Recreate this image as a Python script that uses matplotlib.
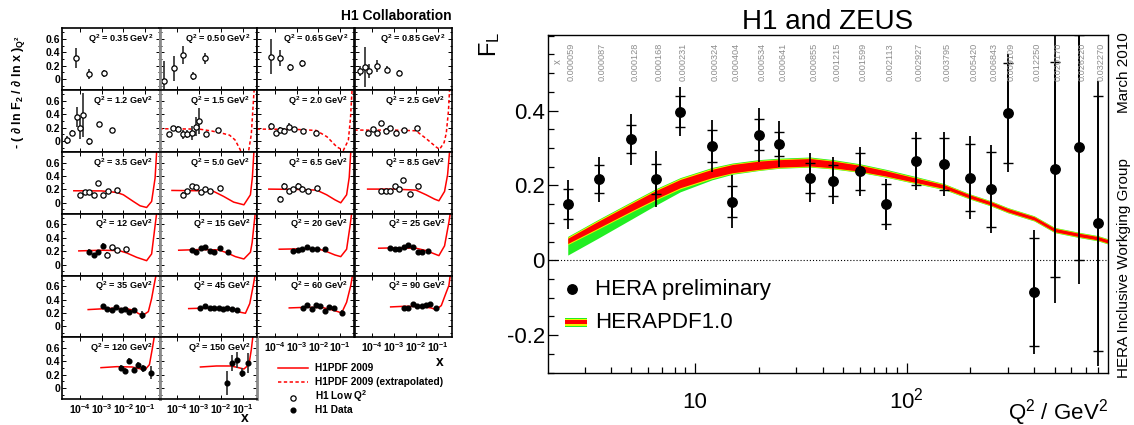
import numpy as np
import matplotlib
matplotlib.use("Agg")
import matplotlib.pyplot as plt
from matplotlib.lines import Line2D
from matplotlib.patches import Rectangle
from matplotlib.ticker import FixedLocator, NullFormatter, LogLocator, MultipleLocator, FixedFormatter
import matplotlib.transforms as mtransforms

plt.rcParams['font.family'] = ['Liberation Sans', 'DejaVu Sans']
plt.rcParams['mathtext.fontset'] = 'custom'
plt.rcParams['mathtext.rm'] = 'Liberation Sans'
plt.rcParams['mathtext.it'] = 'Liberation Sans:italic'
plt.rcParams['mathtext.bf'] = 'Liberation Sans:bold'
plt.rcParams['axes.unicode_minus'] = False

# ---------------- Left: H1 lambda panels ----------------
h1_q2 = ['0.35', '0.50', '0.65', '0.85', '1.2', '1.5', '2.0', '2.5',
         '3.5', '5.0', '6.5', '8.5', '12', '15', '20', '25',
         '35', '45', '60', '90', '120', '150']

h1_logx = [
    [-4.18, -3.59, -2.90],
    [-4.60, -4.17, -3.76, -3.30, -2.72],
    [-4.18, -3.78, -3.31, -2.74],
    [-4.55, -4.35, -4.14, -3.80, -3.34, -2.76],
    [-4.61, -4.35, -4.15, -4.00, -3.85, -3.59, -3.11, -2.54],
    [-4.38, -4.18, -3.97, -3.76, -3.55, -3.35, -3.16, -2.99, -2.68, -2.11],
    [-4.18, -3.97, -3.77, -3.57, -3.35, -3.11, -2.70, -2.11],
    [-4.22, -3.99, -3.78, -3.59, -3.37, -3.17, -2.91, -2.53, -1.94],
    [-4.00, -3.77, -3.57, -3.35, -3.18, -2.95, -2.69, -2.28],
    [-3.76, -3.55, -3.35, -3.14, -2.93, -2.72, -2.48, -2.05],
    [-3.77, -3.59, -3.37, -3.16, -2.95, -2.74, -2.50, -2.05],
    [-3.60, -3.37, -3.17, -2.97, -2.76, -2.57, -2.29, -1.88],
    [-3.57, -3.35, -3.18, -2.95, -2.77, -2.54, -2.31, -1.88],
    [-3.35, -3.14, -2.93, -2.72, -2.51, -2.31, -2.05, -1.68],
    [-3.16, -2.95, -2.74, -2.53, -2.31, -2.08, -1.70],
    [-3.18, -2.97, -2.76, -2.56, -2.34, -2.14, -1.91, -1.70, -1.45],
    [-2.95, -2.74, -2.54, -2.34, -2.13, -1.93, -1.73, -1.51, -1.16],
    [-2.94, -2.71, -2.51, -2.31, -2.10, -1.89, -1.70, -1.48, -1.25],
    [-2.72, -2.51, -2.31, -2.11, -1.91, -1.70, -1.50, -1.27, -0.93],
    [-2.56, -2.34, -2.14, -1.94, -1.73, -1.53, -1.33, -1.06],
    [-2.13, -1.93, -1.73, -1.51, -1.31, -1.08, -0.74],
    [-1.71, -1.48, -1.28, -1.05, -0.74],
]

h1_val = [
    [0.32, 0.08, 0.09],
    [-0.03, 0.16, 0.36, 0.045, 0.31],
    [0.33, 0.31, 0.175, 0.235],
    [0.125, 0.18, 0.125, 0.20, 0.14, 0.095],
    [0.015, 0.125, 0.365, 0.19, 0.39, 0.0, 0.25, 0.165],
    [0.10, 0.19, 0.18, 0.10, 0.105, 0.125, 0.215, 0.30, 0.10, 0.16],
    [0.23, 0.125, 0.165, 0.15, 0.215, 0.18, 0.155, 0.115],
    [0.125, 0.175, 0.115, 0.265, 0.15, 0.19, 0.115, 0.165, 0.19],
    [0.11, 0.16, 0.16, 0.11, 0.295, 0.11, 0.18, 0.19],
    [0.12, 0.18, 0.245, 0.235, 0.16, 0.205, 0.17, 0.22],
    [0.055, 0.255, 0.17, 0.205, 0.255, 0.205, 0.17, 0.22],
    [0.17, 0.18, 0.18, 0.255, 0.205, 0.335, 0.135, 0.245],
    [0.185, 0.15, 0.195, 0.285, 0.15, 0.26, 0.225, 0.23],
    [0.22, 0.195, 0.245, 0.26, 0.21, 0.185, 0.245, 0.195],
    [0.21, 0.22, 0.235, 0.26, 0.235, 0.235, 0.23],
    [0.245, 0.235, 0.235, 0.26, 0.295, 0.26, 0.195, 0.195, 0.21],
    [0.30, 0.265, 0.25, 0.29, 0.25, 0.255, 0.215, 0.25, 0.175],
    [0.275, 0.305, 0.28, 0.275, 0.275, 0.265, 0.28, 0.255, 0.24],
    [0.28, 0.315, 0.265, 0.315, 0.30, 0.225, 0.29, 0.275, 0.20],
    [0.275, 0.275, 0.34, 0.305, 0.305, 0.325, 0.33, 0.275],
    [0.305, 0.26, 0.405, 0.27, 0.345, 0.295, 0.23],
    [0.08, 0.38, 0.42, 0.23, 0.38],
]

h1_err = [
    [0.15, 0.07, 0.05],
    [0.30, 0.18, 0.13, 0.06, 0.08],
    [0.26, 0.12, 0.05, 0.05],
    [0.07, 0.30, 0.10, 0.09, 0.05, 0.04],
    [0.06, 0.04, 0.15, 0.15, 0.32, 0.05, 0.03, 0.03],
    [0.03, 0.04, 0.05, 0.07, 0.06, 0.10, 0.14, 0.20, 0.04, 0.03],
    [0.04, 0.03, 0.04, 0.04, 0.05, 0.03, 0.03, 0.03],
    [0.03, 0.03, 0.03, 0.04, 0.04, 0.04, 0.03, 0.02, 0.03],
    [0.025, 0.02, 0.02, 0.03, 0.03, 0.03, 0.02, 0.02],
    [0.035, 0.025, 0.025, 0.025, 0.03, 0.03, 0.02, 0.02],
    [0.04, 0.035, 0.025, 0.03, 0.035, 0.04, 0.02, 0.02],
    [0.025, 0.025, 0.025, 0.03, 0.035, 0.04, 0.02, 0.02],
    [0.045, 0.025, 0.03, 0.04, 0.04, 0.04, 0.02, 0.02],
    [0.02, 0.02, 0.02, 0.02, 0.02, 0.02, 0.02, 0.02],
    [0.02, 0.02, 0.02, 0.02, 0.02, 0.02, 0.02],
    [0.02, 0.02, 0.02, 0.02, 0.02, 0.02, 0.03, 0.03, 0.03],
    [0.02, 0.02, 0.02, 0.02, 0.02, 0.02, 0.03, 0.03, 0.06],
    [0.02, 0.02, 0.02, 0.02, 0.02, 0.02, 0.02, 0.03, 0.03],
    [0.03, 0.03, 0.02, 0.02, 0.02, 0.03, 0.03, 0.03, 0.05],
    [0.03, 0.02, 0.03, 0.03, 0.03, 0.03, 0.03, 0.03],
    [0.04, 0.04, 0.05, 0.05, 0.05, 0.05, 0.10],
    [0.18, 0.12, 0.12, 0.07, 0.15],
]

# 0 = open circle (H1 Low Q2), 1 = filled (H1 Data)
h1_filled = [
    [0] * 3, [0] * 5, [0] * 4, [0] * 6, [0] * 8, [0] * 10, [0] * 8, [0] * 9,
    [0] * 8, [0] * 8, [0] * 8, [0] * 8,
    [1, 1, 1, 1, 0, 0, 0, 0], [1] * 8, [1] * 7, [1] * 9,
    [1] * 9, [1] * 9, [1] * 9, [1] * 8, [1] * 7, [1] * 5,
]

curve_logx = [
    None, None, None, None, None,
    [-4.83, -3.0, -2.4, -1.9, -1.6, -1.35, -1.15, -1.0, -0.75, -0.6, -0.47, -0.40],
    [-4.83, -3.0, -2.1, -1.6, -1.15, -0.85, -0.62, -0.52, -0.45, -0.40],
    [-4.83, -3.0, -2.0, -1.53, -1.07, -0.91, -0.70, -0.60, -0.50, -0.45, -0.40],
    [-4.28, -3.0, -2.3, -2.0, -1.54, -1.23, -0.93, -0.70, -0.54, -0.47, -0.42],
    [-4.25, -3.0, -2.33, -1.87, -1.41, -0.94, -0.64, -0.55, -0.48, -0.43],
    [-4.28, -3.0, -2.08, -1.62, -1.24, -0.97, -0.70, -0.58, -0.51, -0.45],
    [-4.22, -3.0, -2.0, -1.53, -1.14, -0.94, -0.68, -0.54, -0.45, -0.40],
    [-4.05, -3.0, -2.2, -1.85, -1.39, -0.93, -0.70, -0.54, -0.47, -0.42],
    [-3.94, -3.0, -2.1, -1.71, -1.33, -0.94, -0.64, -0.56, -0.48, -0.42, -0.38],
    [-3.80, -3.0, -2.0, -1.62, -1.24, -0.97, -0.70, -0.54, -0.47, -0.42],
    [-3.71, -3.0, -2.0, -1.53, -1.14, -0.94, -0.68, -0.48, -0.42, -0.38],
    [-3.62, -2.5, -1.8, -1.54, -1.30, -1.10, -0.85, -0.70, -0.59, -0.50, -0.45],
    [-3.48, -2.5, -1.8, -1.41, -1.10, -0.87, -0.67, -0.51, -0.43, -0.38],
    [-3.34, -2.5, -1.8, -1.47, -1.16, -0.93, -0.70, -0.51, -0.43, -0.38],
    [-3.16, -2.5, -1.8, -1.30, -1.07, -0.83, -0.60, -0.48, -0.42, -0.36],
    [-3.03, -2.3, -1.6, -1.25, -1.00, -0.80, -0.65, -0.58, -0.53],
    [-2.94, -2.2, -1.56, -1.25, -0.94, -0.71, -0.60, -0.53, -0.48],
]
curve_val = [
    None, None, None, None, None,
    [0.185, 0.18, 0.15, 0.115, 0.09, 0.02, -0.10, -0.20, -0.20, 0.10, 0.76, 1.1],
    [0.18, 0.175, 0.16, 0.065, -0.085, -0.135, 0.015, 0.35, 0.76, 1.1],
    [0.165, 0.165, 0.155, 0.04, -0.085, -0.12, -0.02, 0.12, 0.45, 0.76, 1.1],
    [0.18, 0.178, 0.155, 0.12, 0.02, -0.045, -0.07, 0.02, 0.37, 0.76, 1.1],
    [0.185, 0.18, 0.17, 0.095, 0.01, -0.03, 0.12, 0.38, 0.76, 1.1],
    [0.205, 0.20, 0.19, 0.12, 0.045, 0.0, 0.12, 0.38, 0.76, 1.1],
    [0.205, 0.205, 0.19, 0.12, 0.055, 0.03, 0.17, 0.42, 0.76, 1.1],
    [0.205, 0.215, 0.21, 0.175, 0.11, 0.06, 0.16, 0.58, 0.76, 1.1],
    [0.215, 0.225, 0.22, 0.175, 0.12, 0.085, 0.185, 0.33, 0.58, 0.76, 1.1],
    [0.23, 0.235, 0.235, 0.195, 0.145, 0.12, 0.23, 0.58, 0.76, 1.1],
    [0.245, 0.25, 0.245, 0.21, 0.16, 0.135, 0.28, 0.63, 0.76, 1.1],
    [0.25, 0.27, 0.26, 0.24, 0.19, 0.165, 0.22, 0.415, 0.61, 0.76, 1.1],
    [0.265, 0.275, 0.27, 0.245, 0.21, 0.195, 0.34, 0.61, 0.76, 1.1],
    [0.275, 0.285, 0.28, 0.255, 0.225, 0.20, 0.36, 0.61, 0.76, 1.1],
    [0.29, 0.30, 0.295, 0.275, 0.25, 0.31, 0.51, 0.61, 0.76, 1.1],
    [0.305, 0.32, 0.315, 0.29, 0.275, 0.35, 0.62, 0.76, 1.1],
    [0.315, 0.33, 0.33, 0.31, 0.285, 0.35, 0.57, 0.76, 1.1],
]
curve_dashed = [False] * 5 + [True, True, True] + [False] * 14

small_xticks = [1e-4, 1e-3, 1e-2, 1e-1]
small_xticklabels = [r'$\mathbf{10^{-4}}$', r'$\mathbf{10^{-3}}$',
                     r'$\mathbf{10^{-2}}$', r'$\mathbf{10^{-1}}$']
small_yticks = [0, 0.2, 0.4, 0.6]
small_yticklabels = ['0', '0.2', '0.4', '0.6']

# ---------------- Right: HERA F_L ----------------
fl_q2 = [2.5, 3.5, 5, 6.5, 8.5, 12, 15, 20, 25, 35, 45, 60, 80, 110, 150,
         200, 250, 300, 400, 500, 650, 800]
fl_val = [0.150, 0.217, 0.324, 0.217, 0.397, 0.306, 0.157, 0.336, 0.311, 0.221,
          0.213, 0.238, 0.150, 0.265, 0.257, 0.221, 0.190, 0.393, -0.085, 0.243,
          0.302, 0.099]
fl_stat = [0.040, 0.037, 0.038, 0.040, 0.041, 0.042, 0.041, 0.041, 0.032, 0.040,
           0.042, 0.050, 0.054, 0.063, 0.070, 0.090, 0.100, 0.134, 0.145, 0.287,
           0.300, 0.340]
fl_tot = [0.065, 0.060, 0.068, 0.075, 0.066, 0.070, 0.070, 0.072, 0.062, 0.065,
          0.063, 0.065, 0.068, 0.078, 0.085, 0.110, 0.117, 0.157, 0.165, 0.358,
          0.366, 0.380]
fl_xlabels = ['0.000059', '0.000087', '0.000128', '0.000168', '0.000231',
              '0.000324', '0.000404', '0.000534', '0.000641', '0.000855',
              '0.001215', '0.001599', '0.002113', '0.002927', '0.003795',
              '0.005420', '0.006843', '0.009109', '0.012250', '0.020170',
              '0.026220', '0.032270']

pdf_q2 = [2.5, 3.5, 5, 6.5, 8.5, 12, 15, 20, 25, 35, 45, 60, 80, 110, 150,
          200, 250, 300, 400, 500, 650, 800, 900]
pdf_central = [0.052, 0.096, 0.142, 0.175, 0.205, 0.232, 0.245, 0.254, 0.259,
               0.262, 0.256, 0.246, 0.232, 0.214, 0.197, 0.170, 0.152, 0.134,
               0.112, 0.081, 0.068, 0.059, 0.050]
pdf_exp = [0.007, 0.009, 0.010, 0.011, 0.011, 0.011, 0.011, 0.011, 0.010, 0.010,
           0.009, 0.008, 0.007, 0.006, 0.005, 0.0045, 0.0045, 0.0045, 0.0045,
           0.0045, 0.0045, 0.0045, 0.0045]
pdf_mod = [0.010, 0.012, 0.013, 0.014, 0.014, 0.014, 0.013, 0.013, 0.012, 0.012,
           0.011, 0.010, 0.009, 0.008, 0.007, 0.006, 0.006, 0.006, 0.006,
           0.006, 0.006, 0.006, 0.006]
pdf_par_lo = [0.038, 0.036, 0.032, 0.028, 0.022, 0.017, 0.015, 0.014, 0.013,
              0.013, 0.012, 0.011, 0.010, 0.009, 0.008, 0.007, 0.007, 0.007,
              0.007, 0.007, 0.007, 0.007, 0.007]
pdf_par_hi = [0.012, 0.014, 0.015, 0.016, 0.016, 0.016, 0.015, 0.015, 0.014,
              0.014, 0.013, 0.012, 0.011, 0.010, 0.008, 0.007, 0.007, 0.007,
              0.007, 0.007, 0.007, 0.007, 0.007]

right_xticks = [10, 100]
right_xticklabels = ['10', r'$10^{2}$']
right_yticks = [-0.2, 0, 0.2, 0.4]
right_yticklabels = ['-0.2', '0', '0.2', '0.4']

# ============================================================
W, H = 1134, 425
fig = plt.figure(figsize=(W / 100, H / 100), dpi=100)


def px_axes(l, t, r, b):
    return fig.add_axes([l / W, 1 - b / H, (r - l) / W, (b - t) / H])


col_edges = [62, 159.5, 257, 354.5, 452]
row_edges = [28, 90, 152, 213.5, 275.5, 337, 399]
xlabel_panels = {18, 19, 20, 21}

for k in range(len(h1_q2)):
    r, c = divmod(k, 4)
    ax = px_axes(col_edges[c], row_edges[r], col_edges[c + 1], row_edges[r + 1])
    ax.set_xscale('log')
    ax.set_xlim(1.5e-5, 0.46)
    ax.set_ylim(-0.16, 0.76)
    for s in ax.spines.values():
        s.set_linewidth(1.2)
    if c == 0:
        ax.spines['right'].set_color('#8a8a8a')
        ax.spines['right'].set_linewidth(2.0)
    if c == 1:
        ax.spines['left'].set_color('#8a8a8a')
        ax.spines['left'].set_linewidth(2.0)
    if k == 21:
        ax.spines['right'].set_color('#8a8a8a')
        ax.spines['right'].set_linewidth(2.0)
    ax.xaxis.set_major_locator(FixedLocator(small_xticks))
    ax.xaxis.set_minor_locator(LogLocator(base=10, subs=np.arange(2, 10)))
    ax.xaxis.set_minor_formatter(NullFormatter())
    ax.yaxis.set_major_locator(FixedLocator(small_yticks))
    ax.yaxis.set_minor_locator(MultipleLocator(0.1))
    ax.tick_params(which='both', direction='in', top=True, right=True, width=0.7)
    ax.tick_params(which='major', length=3)
    ax.tick_params(which='minor', length=1.5)
    if c == 0:
        ax.set_yticklabels(small_yticklabels, fontsize=7.5, fontweight='bold')
        ax.tick_params(axis='y', pad=1.5)
    else:
        ax.set_yticklabels([])
    if k in xlabel_panels:
        ax.set_xticklabels(small_xticklabels, fontsize=7.5)
        ax.tick_params(axis='x', pad=2.5)
    else:
        ax.set_xticklabels([])

    if curve_logx[k] is not None:
        cx = 10 ** np.array(curve_logx[k])
        if curve_dashed[k]:
            ax.plot(cx, curve_val[k], color='red', lw=1.1, ls=(0, (2.2, 1.6)))
        else:
            ax.plot(cx, curve_val[k], color='red', lw=1.1)

    lx = 10 ** np.array(h1_logx[k])
    v = np.array(h1_val[k])
    e = np.array(h1_err[k])
    f = np.array(h1_filled[k], dtype=bool)
    ax.errorbar(lx, v, yerr=e, fmt='none', ecolor='#3c3c3c', elinewidth=1.3, capsize=0)
    if (~f).any():
        ax.plot(lx[~f], v[~f], 'o', mfc='white', mec='black', ms=3.8, mew=0.9)
    if f.any():
        ax.plot(lx[f], v[f], 'o', color='black', ms=3.4)

    ax.text(0.935, 0.78, r'Q$^{\mathbf{2}}$ = ' + h1_q2[k] + r' GeV$^{\mathbf{2}}$',
            transform=ax.transAxes, ha='right', va='baseline',
            fontsize=6.6, fontweight='bold')

fig.text(452 / W, 1 - 20 / H, 'H1 Collaboration', ha='right', va='baseline',
         fontsize=10, fontweight='bold')
fig.text(19 / W, 1 - 92 / H,
         r'- ( ∂ ln F$_{\mathbf{2}}$ / ∂ ln x )$_{\mathbf{Q^{2}}}$',
         rotation=90, ha='center', va='center', fontsize=9, fontweight='bold')
fig.text(440 / W, 1 - 362 / H, 'x', ha='center', va='center', fontsize=10, fontweight='bold')
fig.text(245 / W, 1 - 418 / H, 'x', ha='center', va='center', fontsize=10, fontweight='bold')

# left legend
fig.add_artist(Line2D([278 / W, 308 / W], [1 - 368 / H, 1 - 368 / H],
                      color='red', lw=1.1, transform=fig.transFigure))
fig.add_artist(Line2D([278 / W, 308 / W], [1 - 382 / H, 1 - 382 / H],
                      color='red', lw=1.1, ls=(0, (2.2, 1.6)), transform=fig.transFigure))
fig.add_artist(Line2D([293 / W], [1 - 397.5 / H], marker='o', mfc='white', mec='black',
                      ms=3.8, mew=0.9, transform=fig.transFigure))
fig.add_artist(Line2D([293 / W], [1 - 410 / H], marker='o', color='black',
                      ms=3.4, transform=fig.transFigure))
leg_texts = ['H1PDF 2009', 'H1PDF 2009 (extrapolated)', r'H1 Low Q$^{\mathbf{2}}$', 'H1 Data']
for t, yy in zip(leg_texts, [368, 382, 396.5, 410]):
    fig.text(315 / W, 1 - yy / H, t, ha='left', va='center', fontsize=7.3, fontweight='bold')

# ---------------- right panel ----------------
axR = px_axes(547.7, 35, 1107.7, 373)
axR.set_xscale('log')
axR.set_xlim(2.01, 890)
axR.set_ylim(-0.301, 0.602)
for s in axR.spines.values():
    s.set_linewidth(1.0)

q = np.array(pdf_q2)
cen = np.array(pdf_central)
axR.fill_between(q, cen - np.array(pdf_par_lo), cen + np.array(pdf_par_hi),
                 color='#22ee22', lw=0)
axR.fill_between(q, cen - np.array(pdf_mod), cen + np.array(pdf_mod),
                 color='#f2f200', lw=0)
axR.fill_between(q, cen - np.array(pdf_exp), cen + np.array(pdf_exp),
                 color='#ff0000', lw=0)

axR.axhline(0, color='black', lw=0.8, ls=(0, (1, 1.8)))

axR.errorbar(fl_q2, fl_val, yerr=fl_tot, fmt='none', ecolor='black',
             elinewidth=1.3, capsize=0)
axR.errorbar(fl_q2, fl_val, yerr=fl_stat, fmt='o', color='black', ms=6.8,
             elinewidth=1.3, capsize=3.8, capthick=1.0)

axR.xaxis.set_major_locator(FixedLocator(right_xticks))
axR.xaxis.set_minor_locator(LogLocator(base=10, subs=np.arange(2, 10)))
axR.xaxis.set_major_formatter(NullFormatter())
axR.xaxis.set_minor_formatter(NullFormatter())
axR.yaxis.set_major_locator(FixedLocator(right_yticks))
axR.yaxis.set_major_formatter(FixedFormatter(right_yticklabels))
axR.yaxis.set_minor_locator(MultipleLocator(0.05))
axR.tick_params(which='both', direction='in', top=False, right=False, width=0.9)
axR.tick_params(which='major', length=7.5)
axR.tick_params(which='minor', length=4)
axR.tick_params(axis='y', labelsize=16, pad=2)

trans_xb = mtransforms.blended_transform_factory(axR.transData, axR.transAxes)
for xv, lab in zip(right_xticks, right_xticklabels):
    axR.text(xv, -0.104, lab, transform=trans_xb, ha='center', va='baseline',
             fontsize=16)

# rotated x labels at top
off = mtransforms.ScaledTranslation(3.4 / 100, 0, fig.dpi_scale_trans)
for xv, lab in zip(fl_q2, fl_xlabels):
    axR.text(xv, 0.976, lab, transform=trans_xb + off, rotation=90, ha='center',
             va='top', fontsize=6.6, color='#8c8c8c')
axR.text(0.019, 0.93, 'x', transform=axR.transAxes, rotation=90, ha='center',
         va='top', fontsize=7, color='#8c8c8c')

# legend
axR.plot([0.043], [0.2485], 'o', color='black', ms=6.8, transform=axR.transAxes,
         clip_on=False)
axR.text(0.0845, 0.2485, 'HERA preliminary', transform=axR.transAxes,
         ha='left', va='center', fontsize=16)
axR.add_patch(Rectangle((0.031, 0.137), 0.039, 0.0266, transform=axR.transAxes,
                        color='#22ee22', lw=0))
axR.add_patch(Rectangle((0.031, 0.1395), 0.039, 0.0216, transform=axR.transAxes,
                        color='#f2f200', lw=0))
axR.add_patch(Rectangle((0.031, 0.1443), 0.039, 0.012, transform=axR.transAxes,
                        color='#ff0000', lw=0))
axR.text(0.0845, 0.150, 'HERAPDF1.0', transform=axR.transAxes,
         ha='left', va='center', fontsize=16)

fig.text(828 / W, 1 - 29 / H, 'H1 and ZEUS', ha='center', va='baseline', fontsize=20)
fig.text(490 / W, 1 - 32 / H, r'F$_{\mathrm{L}}$', rotation=90, ha='center', va='top',
         fontsize=17)
fig.text(1107.7 / W, 1 - 420 / H, r'Q$^{2}$ / GeV$^{2}$', ha='right', va='baseline',
         fontsize=16)
fig.text(1124 / W, 1 - 113 / H, 'March 2010', rotation=90, ha='center', va='bottom',
         fontsize=11)
fig.text(1124 / W, 1 - 378 / H, 'HERA Inclusive Workging Group', rotation=90,
         ha='center', va='bottom', fontsize=11)

fig.savefig('out.png', dpi=100)
